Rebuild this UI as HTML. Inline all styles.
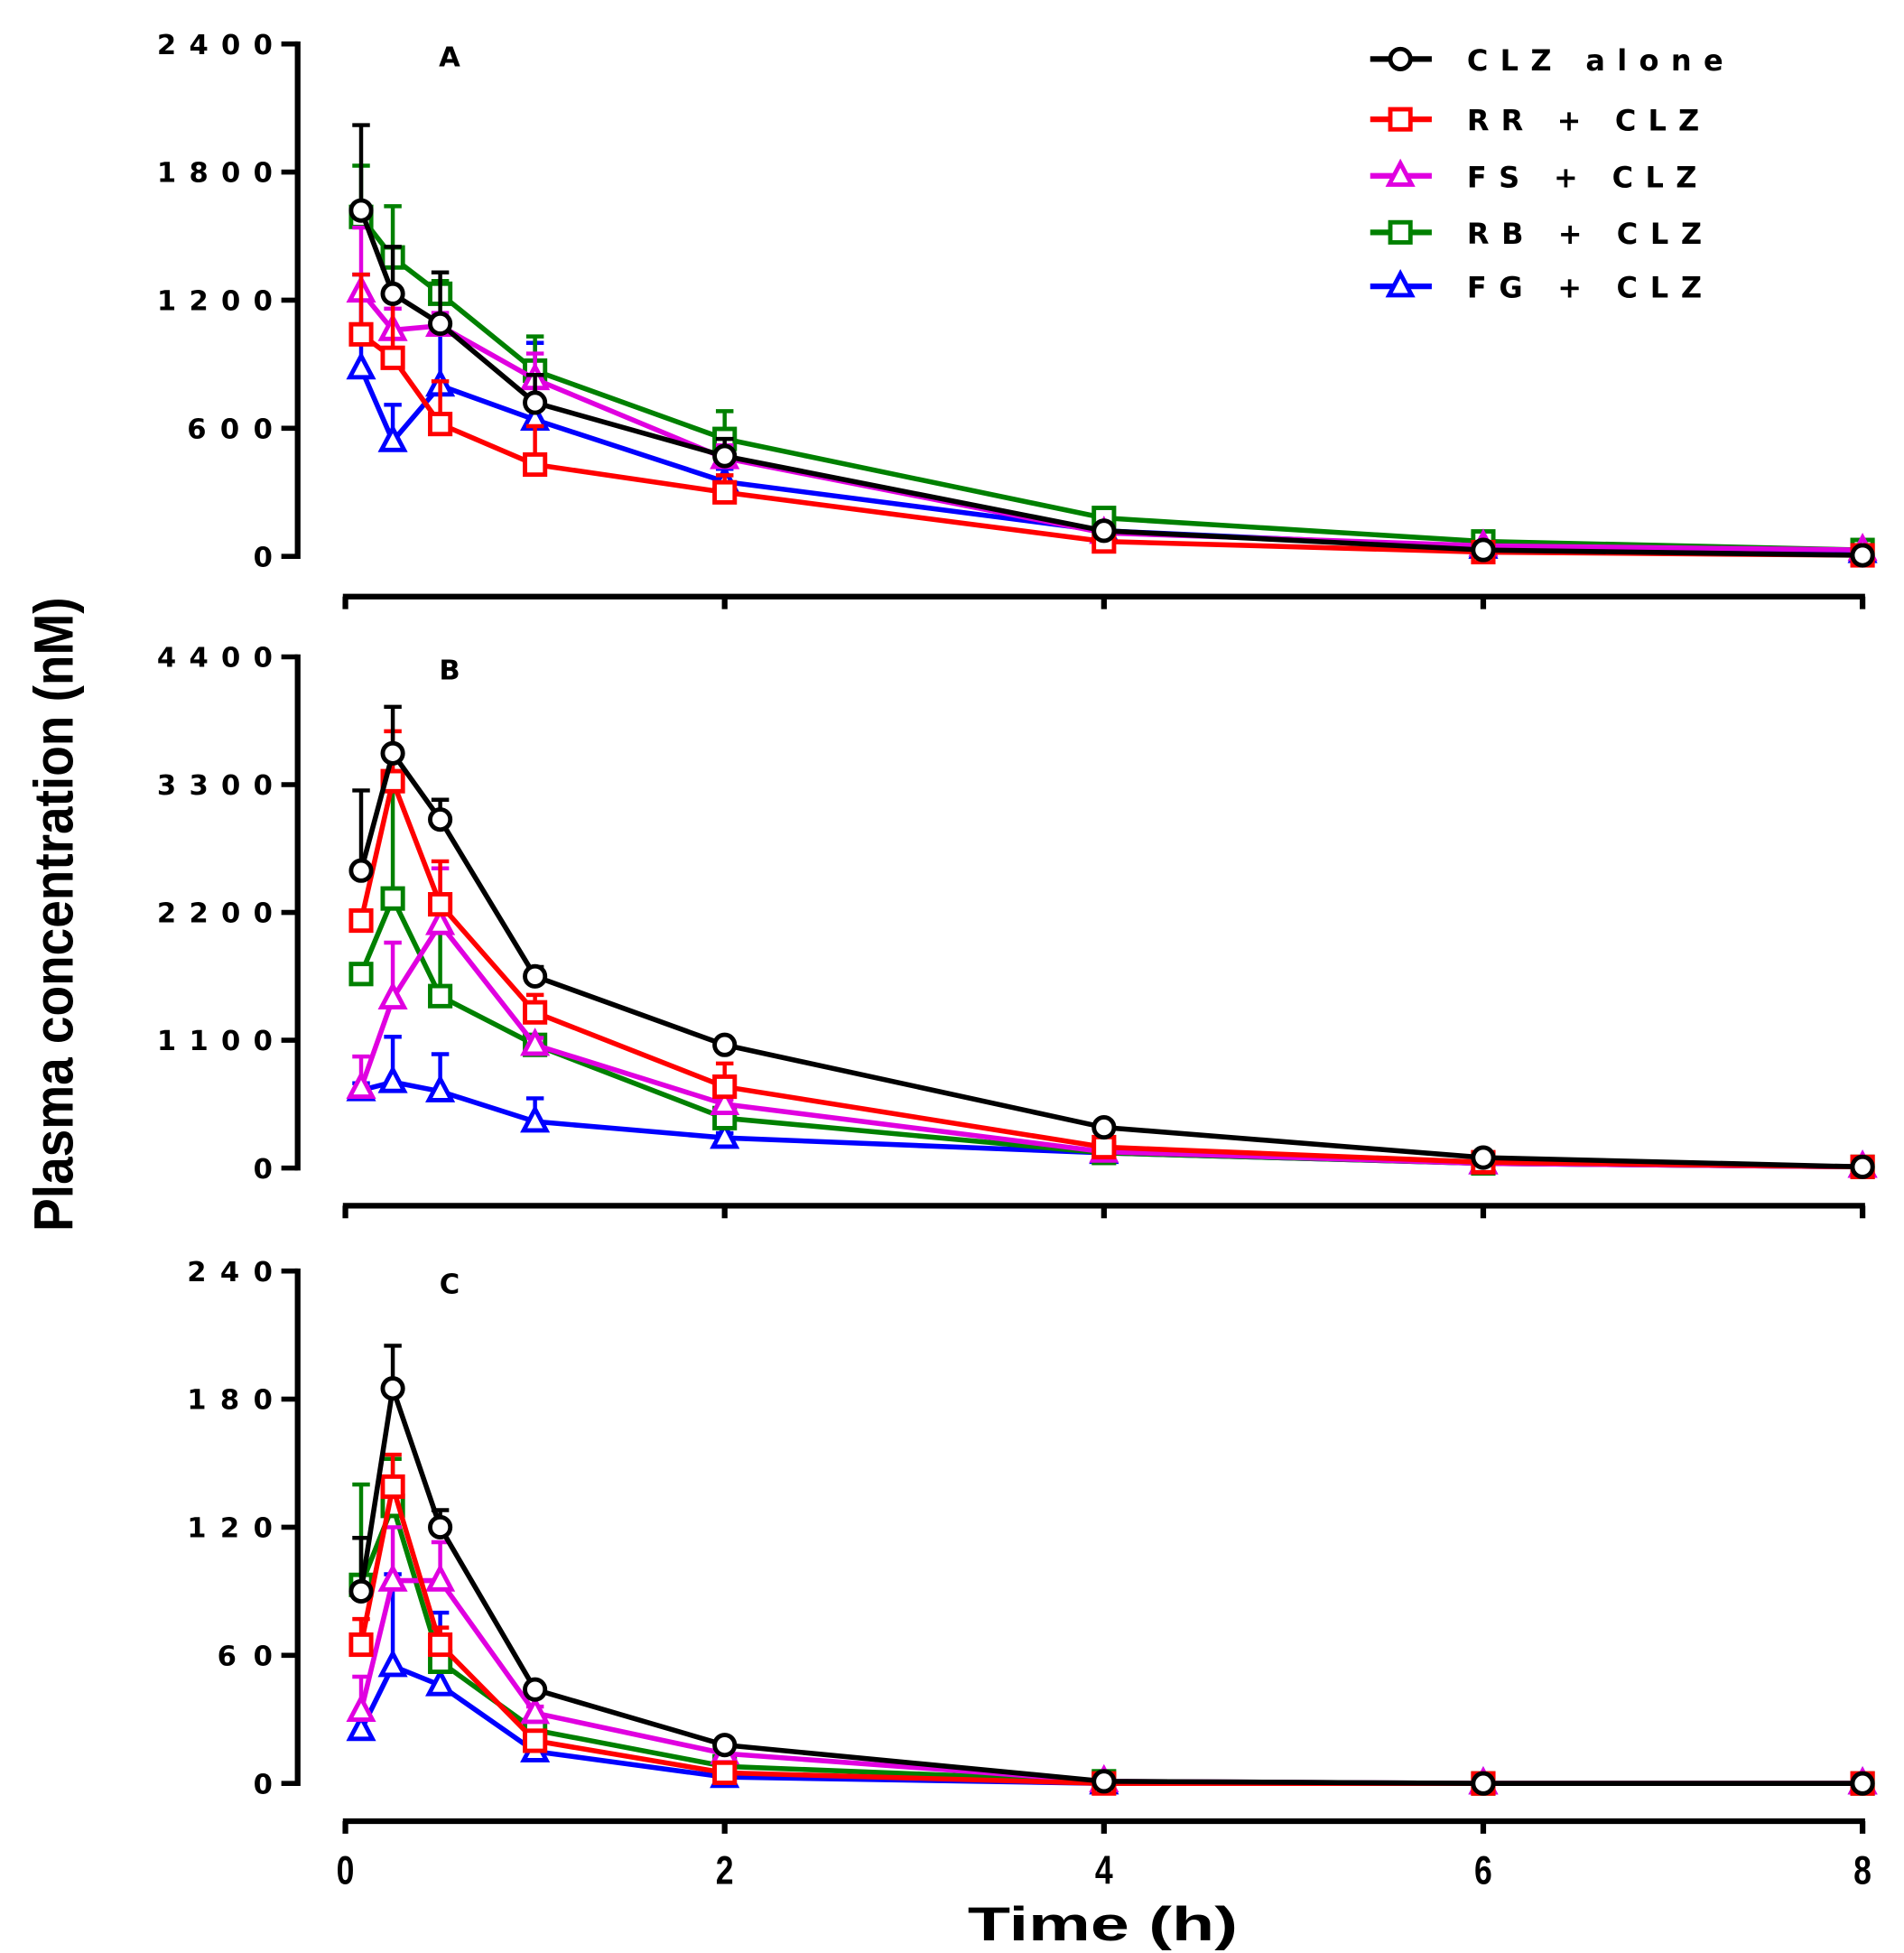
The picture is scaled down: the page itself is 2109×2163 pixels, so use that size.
<!DOCTYPE html>
<html><head><meta charset="utf-8">
<style>
html,body{margin:0;padding:0;background:#fff;}
svg{display:block;}
text{font-family:"Liberation Sans",sans-serif;font-weight:bold;fill:#000;}
text.wide{font-family:"DejaVu Sans","Liberation Sans",sans-serif;}
</style></head>
<body>
<svg id="chart" width="2109" height="2163" viewBox="0 0 1516 1555" preserveAspectRatio="none" xmlns="http://www.w3.org/2000/svg">
<text transform="translate(58,728) rotate(-90)" text-anchor="middle" font-size="44" textLength="505" lengthAdjust="spacingAndGlyphs">Plasma concentration (nM)</text>
<text x="878" y="1545" text-anchor="middle" font-size="38" textLength="215" lengthAdjust="spacingAndGlyphs">Time (h)</text>
</svg>
<script>
const times = [0.083, 0.25, 0.5, 1, 2, 4, 6, 8];
const seriesNames = ["CLZ alone", "RR + CLZ", "FS + CLZ", "RB + CLZ", "FG + CLZ"];
const panelLabels = ["A", "B", "C"];
const yMaxes = [2400, 4400, 240];
const yTickLabelsA = [0, 600, 1200, 1800, 2400];
const yTickLabelsB = [0, 1100, 2200, 3300, 4400];
const yTickLabelsC = [0, 60, 120, 180, 240];
const xTickLabels = [0, 2, 4, 6, 8];
// Panel A
const A_CLZ = [1620, 1230, 1090, 720, 470, 120, 30, 5];
const A_RR  = [1040, 930, 620, 430, 300, 70, 20, 5];
const A_FS  = [1240, 1060, 1080, 830, 460, 110, 50, 30];
const A_RB  = [1590, 1400, 1230, 870, 550, 180, 70, 30];
const A_FG  = [880, 540, 800, 640, 350, 120, 40, 20];
const A_CLZ_err = [400, 220, 240, 130, 80, 30, 10, 5];
const A_RR_err  = [280, 270, 200, 180, 80, 20, 5, 5];
const A_FS_err  = [300, 100, 60, 120, 60, 20, 10, 5];
const A_RB_err  = [240, 240, 60, 160, 130, 30, 10, 5];
const A_FG_err  = [440, 170, 300, 360, 60, 20, 10, 5];
// Panel B
const B_CLZ = [2560, 3570, 3000, 1650, 1060, 350, 90, 10];
const B_RR  = [2130, 3330, 2270, 1340, 700, 180, 50, 10];
const B_FS  = [690, 1460, 2100, 1060, 550, 140, 40, 10];
const B_RB  = [1670, 2320, 1480, 1060, 430, 130, 40, 10];
const B_FG  = [670, 740, 660, 400, 260, 130, 40, 10];
const B_CLZ_err = [690, 400, 170, 80, 30, 20, 10, 5];
const B_RR_err  = [40, 430, 370, 150, 200, 60, 10, 5];
const B_FS_err  = [270, 480, 480, 60, 40, 20, 10, 5];
const B_RB_err  = [80, 950, 550, 40, 40, 20, 10, 5];
const B_FG_err  = [60, 390, 320, 200, 40, 20, 10, 5];
// Panel C
const C_CLZ = [90, 185, 120, 44, 18, 1, 0, 0];
const C_RR  = [65, 139, 65, 20, 5, 0, 0, 0];
const C_FS  = [34, 95, 95, 33, 14, 1, 0, 0];
const C_RB  = [93, 130, 57, 25, 8, 1, 0, 0];
const C_FG  = [25, 55, 46, 15, 3, 0, 0, 0];
const C_CLZ_err = [25, 20, 8, 3, 2, 1, 0, 0];
const C_RR_err  = [12, 15, 8, 3, 2, 0, 0, 0];
const C_FS_err  = [16, 25, 18, 3, 2, 0, 0, 0];
const C_RB_err  = [47, 22, 10, 3, 2, 0, 0, 0];
const C_FG_err  = [5, 43, 34, 3, 2, 0, 0, 0];

const panelValues = [[A_CLZ,A_RR,A_FS,A_RB,A_FG],[B_CLZ,B_RR,B_FS,B_RB,B_FG],[C_CLZ,C_RR,C_FS,C_RB,C_FG]];
const panelErrors = [[A_CLZ_err,A_RR_err,A_FS_err,A_RB_err,A_FG_err],[B_CLZ_err,B_RR_err,B_FS_err,B_RB_err,B_FG_err],[C_CLZ_err,C_RR_err,C_FS_err,C_RB_err,C_FG_err]];
const panelTicks = [yTickLabelsA, yTickLabelsB, yTickLabelsC];

const colors = ["#000000", "#ff0000", "#e000e0", "#008000", "#0000ff"];
const shapes = ["circle", "square", "triangle", "square", "triangle"];
const layout = [{top:35,bot:443,xax:475},{top:523,bot:930,xax:960},{top:1012,bot:1420,xax:1450}];
const X0 = 275, X1 = 1483, YAX = 237;
const NS = "http://www.w3.org/2000/svg";
const svg = document.getElementById("chart");
function xs(t){ return X0 + t/8*(X1-X0); }
function mk(tag, attrs, parent){
  const e = document.createElementNS(NS, tag);
  for (const k in attrs) e.setAttribute(k, attrs[k]);
  (parent||svg).appendChild(e);
  return e;
}
function marker(g, shape, cx, cy, col){
  let m;
  if (shape === "circle") m = mk("circle", {cx:cx, cy:cy, r:8, fill:"#fff", stroke:col, "stroke-width":3.5}, g);
  else if (shape === "square") m = mk("rect", {x:cx-8, y:cy-8, width:16, height:16, fill:"#fff", stroke:col, "stroke-width":3.5}, g);
  else m = mk("polygon", {points:`${cx},${cy-10} ${cx-9},${cy+7} ${cx+9},${cy+7}`, fill:"#fff", stroke:col, "stroke-width":3.5}, g);
  return m;
}
layout.forEach((L, p) => {
  const ymax = yMaxes[p];
  const ys = v => L.bot - v/ymax*(L.bot-L.top);
  const pg = mk("g", {});
  
  
  const ya = mk("line", {x1:YAX, y1:L.top-2, x2:YAX, y2:L.bot+2, stroke:"#000", "stroke-width":4.5}, pg);
  
  
  panelTicks[p].forEach(v => {
    const y = ys(v);
    mk("line", {x1:YAX-13, y1:y, x2:YAX, y2:y, stroke:"#000", "stroke-width":4}, pg);
    const s = String(v);
    const attrs = {x:YAX-20, y:y+8, "text-anchor":"end", "font-size":22, "class":"wide"};
    if (s.length > 1) { attrs.textLength = s.length*24 - 4; attrs.lengthAdjust = "spacing"; attrs.x = YAX-20 - (s.length*24 - 4); attrs["text-anchor"] = "start"; }
    const t = mk("text", attrs, pg);
    t.textContent = s;
    
    
  });
  const xa = mk("line", {x1:X0-2, y1:L.xax, x2:X1+2, y2:L.xax, stroke:"#000", "stroke-width":4.5}, pg);
  
  
  xTickLabels.forEach(v => {
    const x = xs(v);
    mk("line", {x1:x, y1:L.xax, x2:x, y2:L.xax+10, stroke:"#000", "stroke-width":4.5}, pg);
    if (p === 2) {
      const t = mk("text", {x:x, y:1500, "text-anchor":"middle", "font-size":32, transform:`translate(${x},0) scale(0.8,1) translate(${-x},0)`}, pg);
      t.textContent = String(v);
      
      
    }
  });
  const lab = mk("text", {x:358, y:L.top+18, "text-anchor":"middle", "font-size":22, "class":"wide"}, pg);
  lab.textContent = panelLabels[p];
  
  
  for (let s = 4; s >= 0; s--) {
    const vals = panelValues[p][s], errs = panelErrors[p][s], col = colors[s];
    const sg = mk("g", {}, pg);
    
    
    vals.forEach((v, i) => {
      const x = xs(times[i]), y = ys(v), ye = ys(v + errs[i]);
      if (errs[i] > 0) {
        mk("line", {x1:x, y1:y, x2:x, y2:ye, stroke:col, "stroke-width":3.2}, sg);
        const cap = mk("line", {x1:x-7, y1:ye, x2:x+7, y2:ye, stroke:col, "stroke-width":3.2}, sg);
        
        
      }
    });
    const pts = vals.map((v, i) => xs(times[i]) + "," + ys(v)).join(" ");
    const line = mk("polyline", {points:pts, fill:"none", stroke:col, "stroke-width":4, "stroke-linejoin":"round"}, sg);
    
    
    vals.forEach((v, i) => {
      const m = marker(sg, shapes[s], xs(times[i]), ys(v), col);
      
      
    });
  }
});
const legY = [47, 95, 140, 185, 228];
const legW = [204, 185, 183, 187, 187];
const lg = mk("g", {});


seriesNames.forEach((n, s) => {
  const eg = mk("g", {}, lg);
  
  
  mk("line", {x1:1091, y1:legY[s], x2:1140, y2:legY[s], stroke:colors[s], "stroke-width":4.5}, eg);
  marker(eg, shapes[s], 1115, legY[s], colors[s]);
  const t = mk("text", {x:1168, y:legY[s]+9, "font-size":23, "class":"wide", textLength:legW[s], lengthAdjust:"spacing"}, eg);
  t.textContent = n;
});
</script>
</body></html>
